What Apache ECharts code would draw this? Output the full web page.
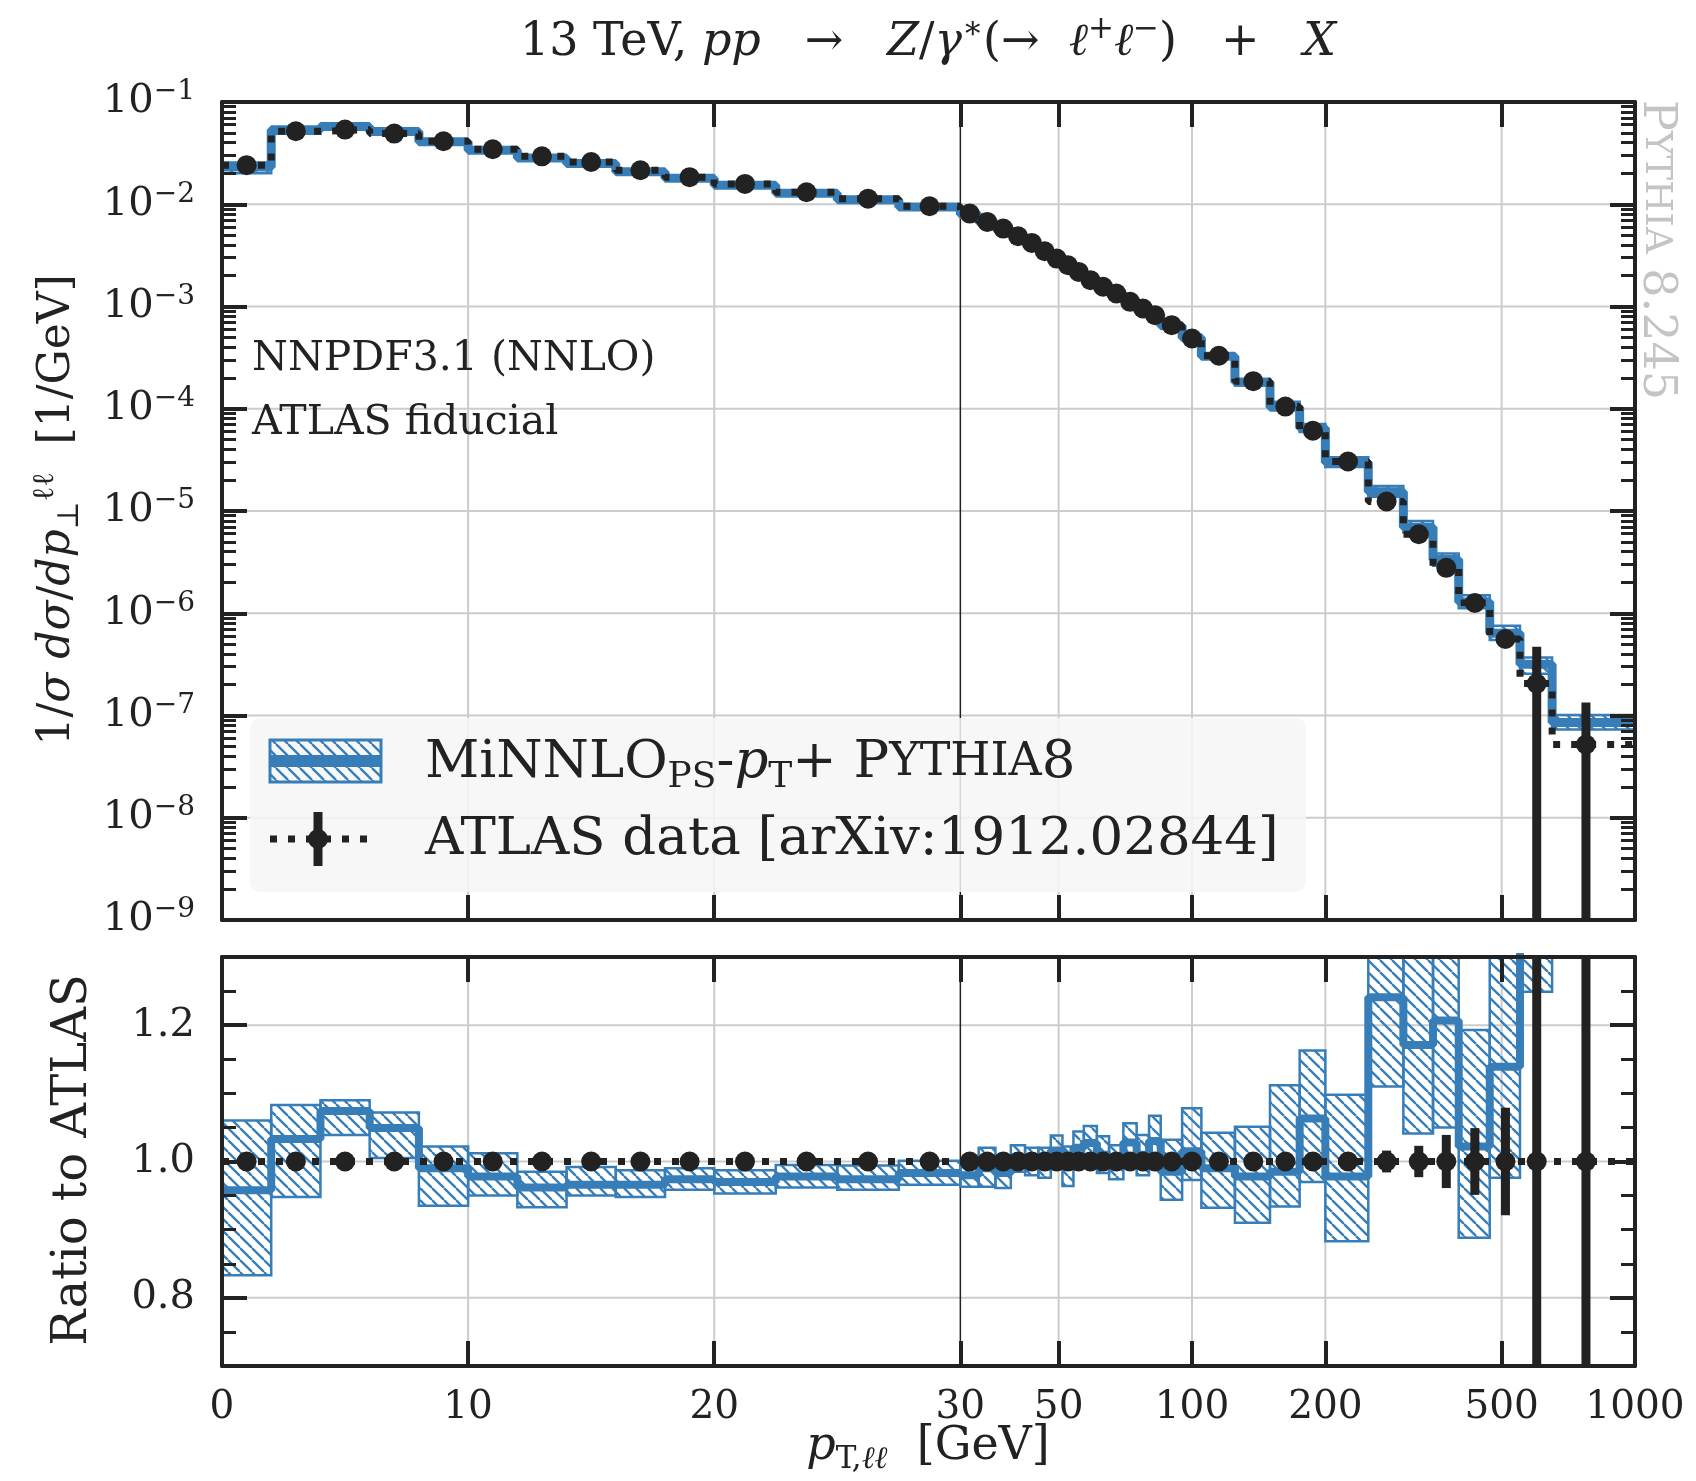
<!DOCTYPE html>
<html>
<head>
<meta charset="utf-8">
<title>Z pT: MiNNLO vs ATLAS</title>
<script src="https://cdn.jsdelivr.net/npm/echarts@6.0.0/dist/echarts.min.js"></script>
<style>
  html, body { margin: 0; padding: 0; background: #fff; }
  #main { width: 1696px; height: 1481px; }
</style>
</head>
<body>
<div id="main"></div>
<script>
// ATLAS binning in GeV (the last bin gets drawn out to the plot edge)
var binEdges = [0, 2, 4, 6, 8, 10, 12, 14, 16, 18, 20, 22.5, 25, 27.5, 30,
  33, 36, 39, 42, 45, 48, 51, 54, 57, 61, 65, 70, 75, 80, 85, 95, 105, 125,
  150, 175, 200, 250, 300, 350, 400, 470, 550, 650, 900];

// ATLAS data, 1/sigma dsigma/dpT [1/GeV]
var dataValues = [0.0241, 0.0517, 0.0537, 0.0491, 0.0413, 0.0345, 0.0294, 0.0259,
  0.0215, 0.0184, 0.0158, 0.0131, 0.01135, 0.00955,
  8.1e-3, 6.72e-3, 5.78e-3, 4.87e-3, 4.19e-3, 3.47e-3, 2.94e-3, 2.53e-3, 2.18e-3,
  1.81e-3, 1.56e-3, 1.34e-3, 1.11e-3, 9.55e-4, 8.23e-4, 6.57e-4, 4.87e-4, 3.30e-4,
  1.86e-4, 1.05e-4, 6.1e-5, 3.05e-5, 1.24e-5, 5.93e-6, 2.78e-6, 1.26e-6, 5.6e-7,
  2.05e-7, 5.2e-8];
// relative data uncertainty
var dataRelErr = [0.006, 0.005, 0.005, 0.005, 0.005, 0.005, 0.005, 0.005, 0.005,
  0.005, 0.005, 0.005, 0.005, 0.005,
  0.005, 0.005, 0.005, 0.005, 0.005, 0.005, 0.005, 0.005, 0.005,
  0.006, 0.006, 0.006, 0.006, 0.006, 0.006, 0.007, 0.008, 0.008,
  0.009, 0.010, 0.012, 0.012, 0.016, 0.023, 0.039, 0.049, 0.079, 1.29, 1.58];

// MiNNLO_PS / ATLAS: central value and band edges
var ratioCentral = [0.958, 1.033, 1.074, 1.049, 0.990, 0.978, 0.962, 0.966, 0.966,
  0.974, 0.970, 0.978, 0.974, 0.983,
  0.980, 0.990, 0.983, 1.005, 1.000, 0.998, 1.016, 0.993, 1.020, 1.027, 1.010,
  0.999, 1.028, 1.010, 1.030, 0.985, 1.015, 0.990, 0.978, 0.985, 1.063, 0.978,
  1.241, 1.171, 1.207, 1.022, 1.139, 1.55, 1.64];
var ratioUp = [1.060, 1.083, 1.090, 1.072, 1.022, 1.012, 0.985, 0.992, 0.987,
  0.990, 0.987, 0.995, 0.994, 1.001,
  0.993, 1.020, 1.005, 1.024, 1.020, 1.020, 1.038, 1.022, 1.044, 1.052, 1.037,
  1.024, 1.056, 1.039, 1.067, 1.032, 1.078, 1.042, 1.051, 1.112, 1.163, 1.098,
  1.42, 1.35, 1.38, 1.193, 1.35, 1.8, 1.95];
var ratioDown = [0.833, 0.948, 1.039, 1.005, 0.935, 0.950, 0.933, 0.950, 0.948,
  0.9585, 0.953, 0.962, 0.9585, 0.966,
  0.963, 0.963, 0.961, 0.985, 0.980, 0.976, 0.995, 0.964, 0.998, 1.002, 0.983,
  0.974, 1.000, 0.980, 0.998, 0.944, 0.973, 0.932, 0.910, 0.934, 0.970, 0.883,
  1.110, 1.041, 1.05, 0.888, 0.976, 1.249, 1.40];

var xTicks = [0, 10, 20, 30, 50, 100, 200, 500, 1000];
var yTicksMain = [1e-1, 1e-2, 1e-3, 1e-4, 1e-5, 1e-6, 1e-7, 1e-8, 1e-9];
var yTicksRatio = [0.8, 1.0, 1.2];
var yMinorRatio = [0.75, 0.85, 0.9, 0.95, 1.05, 1.1, 1.15, 1.25];

var INK = '#222222', BLUE = '#377eb8', GRIDC = '#cccccc';
var SERIF = "'DejaVu Serif', 'Liberation Serif', serif";

// x axis: linear up to 30 GeV, logarithmic above
var X_MAX = 1000, LIN_END = 30, UNITS_PER_DECADE = 18;
function toU(pt) {
  return pt <= LIN_END ? pt : LIN_END + UNITS_PER_DECADE * Math.log10(pt / LIN_END);
}
var U_MAX = toU(X_MAX);
var Y_MIN = 1e-9, Y_MAX = 1e-1, R_MIN = 0.7, R_MAX = 1.3;

var nBins = dataValues.length;
var lo = binEdges.slice(0, nBins);
var hiTrue = binEdges.slice(1);
var hiDraw = hiTrue.map(function (h, i) { return i === nBins - 1 ? X_MAX : h; });
var centers = lo.map(function (l, i) { return (l + hiTrue[i]) / 2; });
var mcValues = dataValues.map(function (v, i) { return v * ratioCentral[i]; });

var yMinorMain = [];
for (var d = -9; d < -1; d++) {
  for (var k = 2; k <= 9; k++) yMinorMain.push(k * Math.pow(10, d));
}

function stepPoints(vals) {
  var pts = lo.map(function (l, i) { return [toU(l), vals[i]]; });
  pts.push([U_MAX, vals[nBins - 1]]);
  return pts;
}

// hatch pattern "\\\\" for the uncertainty bands
function makeHatch(color, s, lw) {
  var c = document.createElement('canvas');
  c.width = s; c.height = s;
  var g = c.getContext('2d');
  g.strokeStyle = color; g.lineWidth = lw;
  g.beginPath();
  for (var j = -1; j <= 1; j++) {
    g.moveTo(j * s, 0); g.lineTo(j * s + s, s);
  }
  g.stroke();
  return c;
}
var hatch = { image: makeHatch(BLUE, 12, 2.3), repeat: 'repeat' };

function segmentSeries(xi, yi, segs, color, width, z) {
  return {
    type: 'custom', xAxisIndex: xi, yAxisIndex: yi, silent: true, z: z, clip: false,
    encode: { x: [0, 2], y: [1, 3] },
    data: segs,
    renderItem: function (params, api) {
      var a = api.coord([api.value(0), api.value(1)]);
      var b = api.coord([api.value(2), api.value(3)]);
      return { type: 'line', shape: { x1: a[0], y1: a[1], x2: b[0], y2: b[1] },
        style: { stroke: color, lineWidth: width } };
    }
  };
}

function bandSeries(xi, yi, rows, z) {
  return {
    type: 'custom', xAxisIndex: xi, yAxisIndex: yi, silent: true, z: z, clip: true,
    encode: { x: [0, 1], y: [2, 3] },
    data: rows,
    renderItem: function (params, api) {
      var a = api.coord([api.value(0), api.value(3)]);
      var b = api.coord([api.value(1), api.value(2)]);
      return { type: 'rect',
        shape: { x: a[0], y: a[1], width: b[0] - a[0], height: b[1] - a[1] },
        style: { fill: hatch, stroke: BLUE, lineWidth: 2.5 } };
    }
  };
}

function errorSeries(xi, yi, rows, z) {
  return {
    type: 'custom', xAxisIndex: xi, yAxisIndex: yi, silent: true, z: z, clip: true,
    encode: { x: 0, y: [1, 2] },
    data: rows,
    renderItem: function (params, api) {
      var a = api.coord([api.value(0), api.value(1)]);
      var b = api.coord([api.value(0), api.value(2)]);
      return { type: 'line', shape: { x1: a[0], y1: a[1], x2: b[0], y2: b[1] },
        style: { stroke: INK, lineWidth: 9 } };
    }
  };
}

function stepLine(xi, yi, vals, color, width, dashed, z) {
  return {
    type: 'line', xAxisIndex: xi, yAxisIndex: yi, step: 'end', silent: true, z: z,
    symbol: 'none', clip: true, data: stepPoints(vals),
    lineStyle: { color: color, width: width, type: dashed ? [7, 11] : 'solid', cap: 'butt' }
  };
}

function dots(xi, yi, vals, z) {
  return {
    type: 'scatter', xAxisIndex: xi, yAxisIndex: yi, silent: true, z: z,
    symbolSize: 20, itemStyle: { color: INK, opacity: 1 },
    data: centers.map(function (c, i) { return [toU(c), vals[i]]; })
  };
}

// axis helpers
var uTicks = xTicks.map(toU);
function xLabel(u) {
  var best = 0;
  for (var i = 1; i < uTicks.length; i++) {
    if (Math.abs(uTicks[i] - u) < Math.abs(uTicks[best] - u)) best = i;
  }
  return String(xTicks[best]);
}
function frameX(grid, pos, labels) {
  return {
    type: 'value', gridIndex: grid, position: pos, min: 0, max: U_MAX, z: 10,
    axisLine: { show: true, onZero: false, lineStyle: { color: INK, width: 4 } },
    axisTick: { show: true, inside: true, length: 25, customValues: uTicks,
      lineStyle: { color: INK, width: 4 } },
    axisLabel: labels ? { show: true, customValues: uTicks, formatter: xLabel, margin: 22,
      fontFamily: SERIF, fontSize: 39, color: INK } : { show: false },
    splitLine: { show: false }
  };
}
function frameY(grid, pos, type, min, max, ticks, len, width, labelCfg, showLine) {
  return {
    type: type, gridIndex: grid, position: pos, min: min, max: max, z: 10,
    axisLine: { show: showLine, onZero: false, lineStyle: { color: INK, width: 4 } },
    axisTick: { show: true, inside: true, length: len, customValues: ticks,
      lineStyle: { color: INK, width: width } },
    axisLabel: labelCfg || { show: false },
    splitLine: { show: false }
  };
}
var supRich = {
  b: { fontFamily: SERIF, fontSize: 40, lineHeight: 48, color: INK },
  s: { fontFamily: SERIF, fontSize: 28, lineHeight: 28, verticalAlign: 'top', color: INK }
};
var mainLabels = {
  show: true, customValues: yTicksMain, margin: 27, rich: supRich,
  formatter: function (v) {
    var e = Math.round(Math.log10(v));
    return '{b|10}{s|\u2212' + Math.abs(e) + '}';
  }
};
var ratioLabels = {
  show: true, customValues: yTicksRatio, margin: 27,
  fontFamily: SERIF, fontSize: 40, color: INK,
  formatter: function (v) { return v.toFixed(1); }
};

var series = [
  // main panel
  segmentSeries(0, 0, xTicks.filter(function (t) { return t > 0 && t < X_MAX && t !== LIN_END; })
    .map(function (t) { return [toU(t), Y_MIN, toU(t), Y_MAX]; }), GRIDC, 2, 1),
  segmentSeries(0, 0, yTicksMain.filter(function (v) { return v > Y_MIN && v < Y_MAX; })
    .map(function (v) { return [0, v, U_MAX, v]; }), GRIDC, 2, 1),
  segmentSeries(0, 0, [[toU(LIN_END), Y_MIN, toU(LIN_END), Y_MAX]], INK, 1.5, 1),
  bandSeries(0, 0, lo.map(function (l, i) {
    return [toU(l), toU(hiDraw[i]), dataValues[i] * ratioDown[i], dataValues[i] * ratioUp[i]];
  }), 2),
  stepLine(0, 0, mcValues, BLUE, 9, false, 3),
  stepLine(0, 0, dataValues, INK, 7, true, 4),
  errorSeries(0, 0, centers.map(function (c, i) {
    return [toU(c), Math.max(dataValues[i] * (1 - dataRelErr[i]), 1e-12),
      dataValues[i] * (1 + dataRelErr[i])];
  }), 5),
  dots(0, 0, dataValues, 6),

  // ratio panel
  segmentSeries(2, 4, xTicks.filter(function (t) { return t > 0 && t < X_MAX && t !== LIN_END; })
    .map(function (t) { return [toU(t), R_MIN, toU(t), R_MAX]; }), GRIDC, 2, 1),
  segmentSeries(2, 4, yTicksRatio.map(function (v) { return [0, v, U_MAX, v]; }), GRIDC, 2, 1),
  segmentSeries(2, 4, [[toU(LIN_END), R_MIN, toU(LIN_END), R_MAX]], INK, 1.5, 1),
  bandSeries(2, 4, lo.map(function (l, i) {
    return [toU(l), toU(hiDraw[i]), ratioDown[i], ratioUp[i]];
  }), 2),
  stepLine(2, 4, ratioCentral, BLUE, 8, false, 3),
  stepLine(2, 4, dataValues.map(function () { return 1; }), INK, 7, true, 4),
  errorSeries(2, 4, centers.map(function (c, i) {
    return [toU(c), 1 - dataRelErr[i], 1 + dataRelErr[i]];
  }), 5),
  dots(2, 4, dataValues.map(function () { return 1; }), 6)
];

// text and legend (zrender styles: colour goes in "fill")
function txt(x, y, text, rich, opts) {
  opts = opts || {};
  return {
    type: 'text', x: x, y: y, rotation: opts.rotation || 0, z: 40, silent: true,
    style: { text: text, rich: rich, align: opts.align || 'center',
      verticalAlign: 'middle', fill: opts.fill || INK,
      fontFamily: SERIF, fontSize: opts.size || 40 }
  };
}
function richSet(size, color, scRatio) {
  color = color || INK;
  var small = Math.round(size * 0.68);
  return {
    r: { fontFamily: SERIF, fontSize: size, lineHeight: size * 1.25, fill: color },
    i: { fontFamily: SERIF, fontStyle: 'italic', fontSize: size, lineHeight: size * 1.25, fill: color },
    sup: { fontFamily: SERIF, fontSize: small, lineHeight: small, verticalAlign: 'top', fill: color },
    sub: { fontFamily: SERIF, fontSize: small, lineHeight: small, verticalAlign: 'bottom', fill: color },
    isub: { fontFamily: SERIF, fontStyle: 'italic', fontSize: small, lineHeight: small,
      verticalAlign: 'bottom', fill: color },
    sc: { fontFamily: SERIF, fontSize: Math.round(size * (scRatio || 0.8)), lineHeight: size * 1.25,
      fill: color }
  };
}

var graphics = [
  txt(928, 43,
    '{r|13 TeV, }{i|pp}{r|   \u2192   }{i|Z}{r|/}{i|\u03b3}{sup|\u2217}{r|(\u2192  }{i|\u2113}{sup|+}{i|\u2113}{sup|\u2212}{r|)   +   }{i|X}',
    richSet(46)),
  txt(252, 359, 'NNPDF3.1 (NNLO)', null, { align: 'left', size: 41 }),
  txt(252, 423, 'ATLAS fiducial', null, { align: 'left', size: 41 }),
  txt(1656, 250, '{r|P}{sc|YTHIA}{r| 8.245}', richSet(46, '#c4c4c4'),
    { rotation: -Math.PI / 2, fill: '#c4c4c4' }),
  txt(58, 510,
    '{r|1/}{i|\u03c3 d\u03c3}{r|/}{i|dp}{sub|\u22a5}{sup|\u2113\u2113}{r|  [1/GeV]}',
    richSet(44), { rotation: Math.PI / 2 }),
  txt(74, 1160, 'Ratio to ATLAS', null, { rotation: Math.PI / 2, size: 48 }),
  txt(928, 1447, '{i|p}{sub|T,}{isub|\u2113\u2113}{r|  [GeV]}', richSet(46)),

  // legend
  { type: 'rect', z: 30, silent: true, shape: { x: 250, y: 718, width: 1056, height: 174, r: 10 },
    style: { fill: 'rgba(246,246,246,0.85)', stroke: 'none' } },
  { type: 'rect', z: 31, silent: true, shape: { x: 270, y: 740, width: 111, height: 42 },
    style: { fill: hatch, stroke: BLUE, lineWidth: 3 } },
  { type: 'line', z: 32, silent: true, shape: { x1: 270, y1: 761, x2: 381, y2: 761 },
    style: { stroke: BLUE, lineWidth: 12 } },
  { type: 'line', z: 31, silent: true, shape: { x1: 270, y1: 839, x2: 367, y2: 839 },
    style: { stroke: INK, lineWidth: 7, lineDash: [7, 11] } },
  { type: 'line', z: 32, silent: true, shape: { x1: 318, y1: 812, x2: 318, y2: 866 },
    style: { stroke: INK, lineWidth: 9 } },
  { type: 'circle', z: 32, silent: true, shape: { cx: 318, cy: 839, r: 10 }, style: { fill: INK } },
  txt(425, 763,
    '{r|MiNNLO}{sub|PS}{r|-}{i|p}{sub|T}{r|+ P}{sc|YTHIA}{r|8}', richSet(53, INK, 0.86),
    { align: 'left' }),
  txt(425, 840, 'ATLAS data [arXiv:1912.02844]', null, { align: 'left', size: 53 })
];

var chart = echarts.init(document.getElementById('main'), null, { renderer: 'canvas' });
chart.setOption({
  animation: false,
  backgroundColor: '#ffffff',
  grid: [
    { left: 222, top: 102, width: 1413, height: 818, containLabel: false, outerBoundsMode: 'none' },
    { left: 222, top: 957, width: 1413, height: 409, containLabel: false, outerBoundsMode: 'none' }
  ],
  xAxis: [
    frameX(0, 'bottom', false),
    frameX(0, 'top', false),
    frameX(1, 'bottom', true),
    frameX(1, 'top', false)
  ],
  yAxis: [
    frameY(0, 'left', 'log', Y_MIN, Y_MAX, yTicksMain, 25, 4, mainLabels, true),
    frameY(0, 'left', 'log', Y_MIN, Y_MAX, yMinorMain, 14, 3, null, false),
    frameY(0, 'right', 'log', Y_MIN, Y_MAX, yTicksMain, 25, 4, null, true),
    frameY(0, 'right', 'log', Y_MIN, Y_MAX, yMinorMain, 14, 3, null, false),
    frameY(1, 'left', 'value', R_MIN, R_MAX, yTicksRatio, 25, 4, ratioLabels, true),
    frameY(1, 'left', 'value', R_MIN, R_MAX, yMinorRatio, 14, 3, null, false),
    frameY(1, 'right', 'value', R_MIN, R_MAX, yTicksRatio, 25, 4, null, true),
    frameY(1, 'right', 'value', R_MIN, R_MAX, yMinorRatio, 14, 3, null, false)
  ],
  series: series,
  graphic: { elements: graphics }
});
</script>
</body>
</html>
